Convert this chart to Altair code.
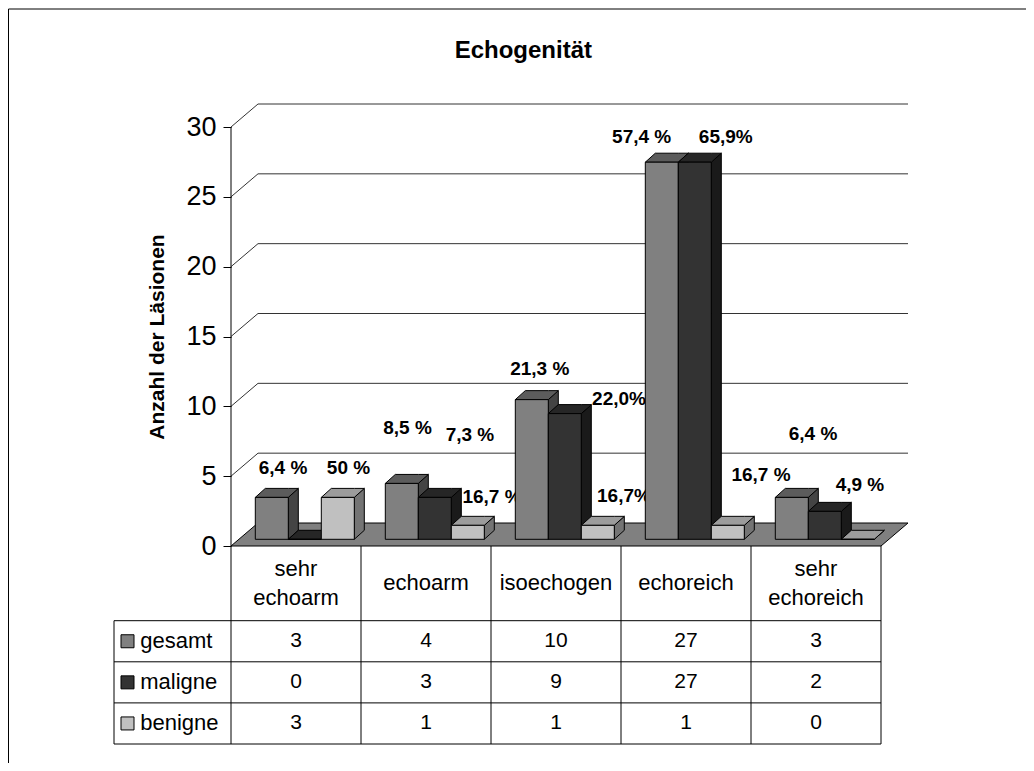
import altair as alt
import pandas as pd

# ---------------- data ----------------
categories = ["sehr echoarm", "echoarm", "isoechogen", "echoreich", "sehr echoreich"]
header_lines = [["sehr", "echoarm"], ["echoarm"], ["isoechogen"], ["echoreich"], ["sehr", "echoreich"]]
series = ["gesamt", "maligne", "benigne"]
gesamt = [3, 4, 10, 27, 3]
maligne = [0, 3, 9, 27, 2]
benigne = [3, 1, 1, 1, 0]
gesamt_pct = ["6,4 %", "8,5 %", "21,3 %", "57,4 %", "6,4 %"]
maligne_pct = ["", "7,3 %", "22,0%", "65,9%", "4,9 %"]
benigne_pct = ["50 %", "16,7 %", "16,7%", "16,7 %", ""]
y_ticks = [0, 5, 10, 15, 20, 25, 30]
chart_title = "Echogenität"
y_title = "Anzahl der Läsionen"

values = {"gesamt": gesamt, "maligne": maligne, "benigne": benigne}
pcts = {"gesamt": gesamt_pct, "maligne": maligne_pct, "benigne": benigne_pct}

# ---------------- layout / style ----------------
N = len(categories)
Y_MAX = 30
PLOT_W = 650
PLOT_H = 419
PX_X = PLOT_W / N            # px per category unit
PX_Y = PLOT_H / Y_MAX        # px per count unit


def ux(px):
    return px / PX_X


def uy(px):
    return px / PX_Y


FLOOR_DX, FLOOR_DY = ux(27), uy(23)
BAR_DX, BAR_DY = ux(10), uy(9)
BAR_BASE = uy(6.7)
BAR_OFF = ux(24.3)
BAR_W = ux(33)

FRONT = {"gesamt": "#808080", "maligne": "#333333", "benigne": "#c0c0c0"}
TOP = {"gesamt": "#5c5c5c", "maligne": "#262626", "benigne": "#9c9c9c"}
SIDE = {"gesamt": "#444444", "maligne": "#1a1a1a", "benigne": "#747474"}
FLOOR = "#808080"

# label anchors (category units, count units)
LABEL_POS = {
    "gesamt": [(0.400, 5.59), (1.358, 8.48), (2.375, 12.67), (3.159, 29.30), (4.477, 8.02)],
    "maligne": [None, (1.838, 7.95), (2.985, 10.52), (3.806, 29.30), (4.838, 4.37)],
    "benigne": [(0.904, 5.59), (2.008, 3.51), (3.023, 3.58), (4.077, 5.08), None],
}

HEADER_BOTTOM = -uy(74.7)
HEADER_LINE = uy(29)
ROW_H = uy(41.1)
TABLE_BOTTOM = HEADER_BOTTOM - 3 * ROW_H
TABLE_LEFT = ux(-117)
FONT = "Liberation Sans"

X_SCALE = alt.Scale(domain=[0, N], nice=False, zero=False)
Y_SCALE = alt.Scale(domain=[0, Y_MAX], nice=False, zero=False)
Y_AXIS = alt.Axis(values=y_ticks, domain=False, grid=False, tickSize=8, tickColor="black",
                  labelFontSize=27, labelFont=FONT, labelColor="black", labelPadding=7,
                  title=y_title, titleFontSize=21, titleFontWeight="bold", titleFont=FONT,
                  titleColor="black", titlePadding=18)


def X(f):
    return alt.X(f"{f}:Q", scale=X_SCALE, axis=None)


def Y(f):
    return alt.Y(f"{f}:Q", scale=Y_SCALE, axis=Y_AXIS, stack=None)


# ---------------- build tables ----------------
front_rows, top_rows, side_rows, label_rows = [], [], [], []
for i, cat in enumerate(categories):
    for j, s in enumerate(series):
        v = values[s][i]
        x0 = i + BAR_OFF + j * BAR_W
        x1 = x0 + BAR_W
        t = BAR_BASE + v
        pid = f"{i}-{j}"
        front_rows.append({"x": x0, "x2": x1, "y": BAR_BASE, "y2": t, "fill": FRONT[s]})
        for (px, ya, yb) in [(x0, t, t), (x0 + BAR_DX, t, t + BAR_DY),
                             (x1, t, t + BAR_DY), (x1 + BAR_DX, t + BAR_DY, t + BAR_DY)]:
            top_rows.append({"pid": pid, "x": px, "y": ya, "y2": yb, "fill": TOP[s]})
        for (px, ya, yb) in [(x1, BAR_BASE, t), (x1 + BAR_DX, BAR_BASE + BAR_DY, t + BAR_DY)]:
            side_rows.append({"pid": pid, "x": px, "y": ya, "y2": yb, "fill": SIDE[s]})
        pos = LABEL_POS[s][i]
        if pos is not None and pcts[s][i]:
            label_rows.append({"x": pos[0], "y": pos[1], "text": pcts[s][i]})

floor_df = pd.DataFrame([
    {"x": 0, "y": 0, "y2": 0},
    {"x": FLOOR_DX, "y": 0, "y2": FLOOR_DY},
    {"x": N, "y": 0, "y2": FLOOR_DY},
    {"x": N + FLOOR_DX, "y": FLOOR_DY, "y2": FLOOR_DY},
])

grid_rows = []
for v in y_ticks[1:]:
    for (px, py) in [(0, v), (FLOOR_DX, v + FLOOR_DY), (N + FLOOR_DX, v + FLOOR_DY)]:
        grid_rows.append({"gid": v, "x": px, "y": py})

vrules = [{"x": 0, "y": Y_MAX, "y2": TABLE_BOTTOM}]
vrules += [{"x": k, "y": 0, "y2": TABLE_BOTTOM} for k in range(1, N + 1)]
vrules.append({"x": TABLE_LEFT, "y": HEADER_BOTTOM, "y2": TABLE_BOTTOM})
hrules = [{"x": TABLE_LEFT, "x2": N, "y": HEADER_BOTTOM - k * ROW_H} for k in range(4)]

header_rows = []
for i, lines in enumerate(header_lines):
    n = len(lines)
    for li, line in enumerate(lines):
        yc = HEADER_BOTTOM / 2 + ((n - 1) / 2 - li) * HEADER_LINE
        header_rows.append({"x": i + 0.5, "y": yc, "text": line})

cell_rows, legend_rows = [], []
for k, s in enumerate(series):
    yc = HEADER_BOTTOM - (k + 0.5) * ROW_H
    legend_rows.append({"x": ux(-103.5), "tx": ux(-90.8), "y": yc, "name": s, "fill": FRONT[s]})
    for i in range(N):
        cell_rows.append({"x": i + 0.5, "y": yc, "text": str(values[s][i])})

# ---------------- layers ----------------
frame = alt.Chart(pd.DataFrame([{"x": ux(8.5 - 231), "x2": ux(1060 - 231),
                                  "y": uy(546 - 9), "y2": uy(546 - 800)}])).mark_rect(
    fillOpacity=0, stroke="black", strokeWidth=1).encode(
    x=X("x"), x2="x2:Q", y=Y("y"), y2="y2:Q")

title = alt.Chart(pd.DataFrame([{"x": ux(523.3 - 231), "y": uy(546 - 58), "t": chart_title}])).mark_text(
    font=FONT, fontSize=24, fontWeight="bold", color="black", baseline="alphabetic", align="center").encode(
    x=X("x"), y=Y("y"), text="t:N")

floor = alt.Chart(floor_df).mark_area(fill=FLOOR, stroke="black", strokeWidth=1, opacity=1).encode(
    x=X("x"), y=Y("y"), y2="y2:Q")

grid = alt.Chart(pd.DataFrame(grid_rows)).mark_line(color="#333333", strokeWidth=1).encode(
    x=X("x"), y=Y("y"), detail="gid:N")

labels = alt.Chart(pd.DataFrame(label_rows)).mark_text(
    font=FONT, fontSize=19, fontWeight="bold", color="black", baseline="middle", align="center").encode(
    x=X("x"), y=Y("y"), text="text:N")

sides = alt.Chart(pd.DataFrame(side_rows)).mark_area(stroke="black", strokeWidth=1, opacity=1).encode(
    x=X("x"), y=Y("y"), y2="y2:Q", detail="pid:N", color=alt.Color("fill:N", scale=None))

tops = alt.Chart(pd.DataFrame(top_rows)).mark_area(stroke="black", strokeWidth=1, opacity=1).encode(
    x=X("x"), y=Y("y"), y2="y2:Q", detail="pid:N", color=alt.Color("fill:N", scale=None))

fronts = alt.Chart(pd.DataFrame(front_rows)).mark_rect(stroke="black", strokeWidth=1, opacity=1).encode(
    x=X("x"), x2="x2:Q", y=Y("y"), y2="y2:Q", color=alt.Color("fill:N", scale=None))

vlines = alt.Chart(pd.DataFrame(vrules)).mark_rule(color="black", strokeWidth=1).encode(
    x=X("x"), y=Y("y"), y2="y2:Q")
hlines = alt.Chart(pd.DataFrame(hrules)).mark_rule(color="black", strokeWidth=1).encode(
    x=X("x"), x2="x2:Q", y=Y("y"))

headers = alt.Chart(pd.DataFrame(header_rows)).mark_text(
    font=FONT, fontSize=22, color="black", baseline="middle", align="center").encode(
    x=X("x"), y=Y("y"), text="text:N")

cells = alt.Chart(pd.DataFrame(cell_rows)).mark_text(
    font=FONT, fontSize=21, color="black", baseline="middle", align="center").encode(
    x=X("x"), y=Y("y"), text="text:N")

legend_df = pd.DataFrame(legend_rows)
squares = alt.Chart(legend_df).mark_square(size=169, filled=True, stroke="black", strokeWidth=1, opacity=1).encode(
    x=X("x"), y=Y("y"), color=alt.Color("fill:N", scale=None))
legend_text = alt.Chart(legend_df).mark_text(
    font=FONT, fontSize=22, color="black", baseline="middle", align="left").encode(
    x=X("tx"), y=Y("y"), text="name:N")

chart = alt.layer(
    frame, title, floor, grid, labels, sides, tops, fronts,
    vlines, hlines, headers, cells, squares, legend_text
).properties(
    width=PLOT_W, height=PLOT_H,
    padding={"left": 223, "top": 119, "right": 145, "bottom": 217},
    autosize=alt.AutoSizeParams(type="none"),
    background="white",
).configure_view(stroke=None)

chart.save("out.html", embed_options={"renderer": "svg", "actions": False})
